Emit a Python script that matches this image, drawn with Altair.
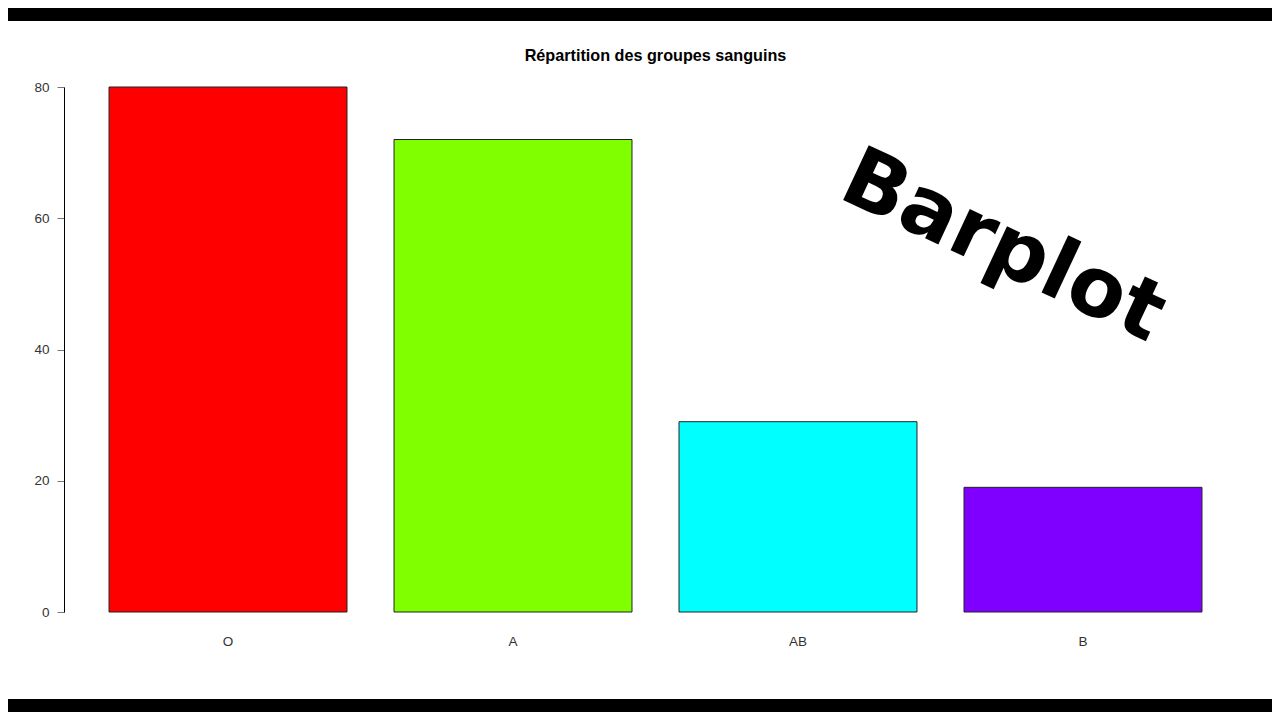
import altair as alt
import pandas as pd

groupes = ["O", "A", "AB", "B"]
effectifs = [80, 72, 29, 19]
couleurs = ["#FF0000", "#80FF00", "#00FFFF", "#8000FF"]
y_ticks = [0, 20, 40, 60, 80]
titre = "Répartition des groupes sanguins"
annotation = "Barplot"

df = pd.DataFrame({"groupe": groupes, "effectif": effectifs})

PLOT_W = 1183
PLOT_H = 525

bars = alt.Chart(df).mark_bar(stroke="#222222", strokeWidth=1).encode(
    x=alt.X(
        "groupe:N",
        sort=None,
        title=None,
        scale=alt.Scale(paddingInner=0.165, paddingOuter=0.158),
        axis=alt.Axis(
            domain=False,
            ticks=False,
            labelAngle=0,
            labelPadding=22,
            labelFontSize=13.5,
            labelFont="Liberation Sans",
            labelColor="#333333",
            grid=False,
        ),
    ),
    y=alt.Y(
        "effectif:Q",
        title=None,
        scale=alt.Scale(domain=[0, 80], nice=False, zero=True),
        axis=alt.Axis(
            values=y_ticks,
            domainColor="#000000",
            domainWidth=1,
            tickColor="#777777",
            tickSize=7,
            labelPadding=8,
            labelFontSize=13.5,
            labelFont="Liberation Sans",
            labelColor="#333333",
            grid=False,
        ),
    ),
    color=alt.Color(
        "groupe:N",
        scale=alt.Scale(domain=groupes, range=couleurs),
        legend=None,
    ),
)

deco = alt.Data(values=[{"k": 1}])

top_band = alt.Chart(deco).mark_rect(color="#000000").encode(
    x=alt.value(-80), x2=alt.value(PLOT_W + 60),
    y=alt.value(-110), y2=alt.value(-66),
)
bottom_band = alt.Chart(deco).mark_rect(color="#000000").encode(
    x=alt.value(-80), x2=alt.value(PLOT_W + 60),
    y=alt.value(612), y2=alt.value(680),
)

title_text = alt.Chart(deco).mark_text(
    text=titre,
    font="Liberation Sans",
    fontSize=16.2,
    fontWeight="bold",
    color="#000000",
    align="center",
    baseline="alphabetic",
).encode(x=alt.value(PLOT_W / 2), y=alt.value(-26))

label = alt.Chart(deco).mark_text(
    text=annotation,
    angle=25,
    fontSize=83,
    font="DejaVu Sans",
    fontWeight="bold",
    color="#000000",
    align="center",
    baseline="middle",
).encode(x=alt.value(939), y=alt.value(160))

chart = (
    alt.layer(top_band, bottom_band, bars, title_text, label)
    .properties(
        width=PLOT_W,
        height=PLOT_H,
        background="#FFFFFF",
        padding={"left": 56, "top": 79, "right": 25, "bottom": 100},
        autosize=alt.AutoSizeParams(type="none"),
    )
    .configure_view(stroke=None)
)

chart.save("out.html", embed_options={"renderer": "svg", "actions": False})
